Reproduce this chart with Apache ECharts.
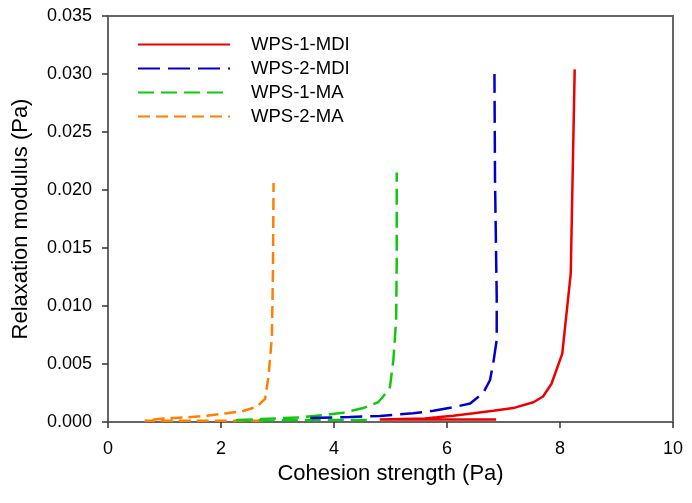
<!DOCTYPE html>
<html>
<head>
<meta charset="utf-8">
<style>
  html, body { margin: 0; padding: 0; background: #fff; }
  #chart { width: 692px; height: 503px; }
</style>
<script src="https://cdn.jsdelivr.net/npm/echarts@6/dist/echarts.min.js"></script>
</head>
<body>
<div id="chart"></div>
<script>
// series names
const seriesNames = ['WPS-1-MDI', 'WPS-2-MDI', 'WPS-1-MA', 'WPS-2-MA']

// WPS-1-MDI
const mdi1X = [6.87, 4.81, 5.20, 5.61, 5.82, 6.11, 6.47, 6.82, 7.17, 7.53, 7.70, 7.85, 8.04, 8.19, 8.26]
const mdi1Y = [0.00022, 0.00022, 0.00026, 0.0003, 0.0004, 0.00054, 0.00075, 0.00097, 0.0012, 0.0017, 0.0022, 0.0033, 0.0059, 0.0128, 0.0304]

// WPS-2-MDI
const mdi2X = [3.58, 4.28, 4.81, 5.40, 5.76, 6.11, 6.41, 6.64, 6.76, 6.82, 6.88, 6.88, 6.85, 6.84]
const mdi2Y = [0.00034, 0.00043, 0.00052, 0.00075, 0.00097, 0.00127, 0.0016, 0.0025, 0.0036, 0.0051, 0.0071, 0.0108, 0.0208, 0.0300]

// WPS-1-MA
const ma1X = [4.58, 2.21, 2.70, 3.40, 3.81, 4.16, 4.52, 4.78, 4.87, 4.99, 5.05, 5.10, 5.11, 5.11]
const ma1Y = [0.00018, 0.00015, 0.00025, 0.0004, 0.0006, 0.0008, 0.0012, 0.0017, 0.0022, 0.0030, 0.0053, 0.0088, 0.0139, 0.0215]

// WPS-2-MA
const ma2X = [2.74, 0.65, 0.98, 1.39, 1.75, 2.10, 2.39, 2.63, 2.78, 2.84, 2.90, 2.92, 2.93]
const ma2Y = [0.0001, 0.0001, 0.0003, 0.0004, 0.00054, 0.00075, 0.00095, 0.0013, 0.0020, 0.0039, 0.0073, 0.0131, 0.0206]

const colors = ['#ee0000', '#0000cc', '#11c811', '#ff8000']
const dashes = ['solid', [22, 8], [16, 7], [12, 6]]

const zip = (xs, ys) => xs.map((x, i) => [x, ys[i]])
const allData = [zip(mdi1X, mdi1Y), zip(mdi2X, mdi2Y), zip(ma1X, ma1Y), zip(ma2X, ma2Y)]

const chart = echarts.init(document.getElementById('chart'))

const font = 'Liberation Sans, Arial, sans-serif'

const option = {
  backgroundColor: '#fff',
  animation: false,
  grid: {
    left: 108,
    right: 19,
    top: 16,
    bottom: 81,
    show: true,
    borderColor: '#666',
    borderWidth: 2,
  },
  legend: {
    orient: 'vertical',
    left: 137,
    top: 35,
    padding: 0,
    itemWidth: 92,
    itemHeight: 14,
    itemGap: 5,
    data: seriesNames,
    itemStyle: { opacity: 0 },
    textStyle: {
      fontFamily: font,
      fontSize: 18.5,
      color: '#000',
      lineHeight: 18,
      padding: [0, 0, 0, 16],
    },
  },
  xAxis: {
    type: 'value',
    min: 0,
    max: 10,
    interval: 2,
    name: 'Cohesion strength (Pa)',
    nameLocation: 'middle',
    nameGap: 41,
    nameTextStyle: { fontFamily: font, fontSize: 22, color: '#000' },
    axisLine: { lineStyle: { color: '#666', width: 2 } },
    axisTick: { length: 6, lineStyle: { color: '#333', width: 1.5 } },
    axisLabel: { fontFamily: font, fontSize: 18, color: '#000', margin: 18 },
    splitLine: { show: false },
  },
  yAxis: {
    type: 'value',
    min: 0,
    max: 0.035,
    interval: 0.005,
    name: 'Relaxation modulus (Pa)',
    nameLocation: 'middle',
    nameGap: 76,
    nameTextStyle: { fontFamily: font, fontSize: 22, color: '#000' },
    axisLine: { show: true, lineStyle: { color: '#666', width: 2 } },
    axisTick: { show: true, length: 6, lineStyle: { color: '#333', width: 1.5 } },
    axisLabel: {
      fontFamily: font,
      fontSize: 18,
      color: '#000',
      margin: 16,
      formatter: (v) => v.toFixed(3),
    },
    splitLine: { show: false },
  },
  series: seriesNames.map((name, i) => ({
    name: name,
    type: 'line',
    data: allData[i],
    symbol: 'none',
    smooth: false,
    color: colors[i],
    lineStyle: { color: colors[i], width: 2.5, type: dashes[i] },
    z: 10 - i,
  })),
}

chart.setOption(option)
</script>
</body>
</html>
